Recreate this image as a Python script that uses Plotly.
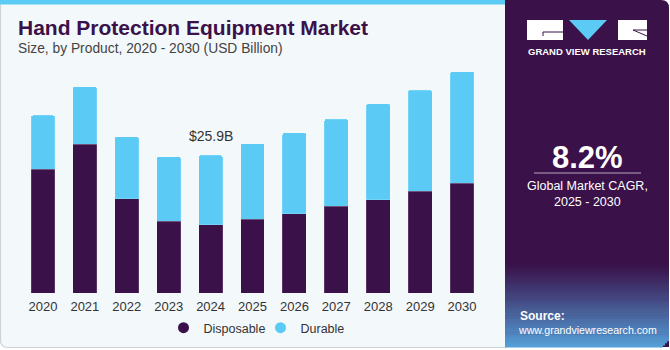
import plotly.graph_objects as go

years = ["2020", "2021", "2022", "2023", "2024", "2025", "2026", "2027", "2028", "2029", "2030"]
disposable = [23.3, 28.0, 17.7, 13.5, 12.85, 13.9, 14.9, 16.3, 17.5, 19.1, 20.6]
durable = [10.1, 10.8, 11.65, 12.15, 13.05, 14.2, 15.2, 16.4, 18.05, 19.05, 21.0]
label_year = "2024"
label_text = "$25.9B"

W, H = 670, 350
L, R, T, B = 22, 187, 60, 57
PW, PH = W - L - R, H - T - B
YMAX = PH / 5.317

def px(x):
    return (x - L) / PW

def py(y):
    return (H - B - y) / PH

DARK = "#3a1149"
BLUE = "#5bcbf6"

fig = go.Figure()
fig.add_bar(x=years, y=disposable, name="Disposable", marker_color=DARK,
            marker_line=dict(color="rgba(255,255,255,0.25)", width=0.6), showlegend=False)
fig.add_bar(x=years, y=durable, name="Durable", marker_color=BLUE,
            marker_line=dict(color="rgba(255,255,255,0.25)", width=0.6), showlegend=False)
# legend entries as circles (points kept outside the visible range)
fig.add_scatter(x=[years[0]], y=[-100], mode="markers", name="Disposable",
                marker=dict(color=DARK, size=11, symbol="circle"), hoverinfo="skip")
fig.add_scatter(x=[years[0]], y=[-100], mode="markers", name="Durable",
                marker=dict(color=BLUE, size=11, symbol="circle"), hoverinfo="skip")

shapes = []
# left card background
shapes.append(dict(type="path", xref="paper", yref="paper", layer="below",
                   path=f"M {px(0.5)},{py(2)} L {px(506)},{py(2)} L {px(506)},{py(347.5)} L {px(8)},{py(347.5)} Q {px(0.5)},{py(347.5)} {px(0.5)},{py(340)} Z",
                   fillcolor="#f3f8fb", line=dict(color="#cfd3d6", width=1.2)))
# top blue strip
shapes.append(dict(type="rect", xref="paper", yref="paper", layer="below",
                   x0=px(0), x1=px(506), y0=py(0), y1=py(4.5), fillcolor="#5bcbf6", line_width=0))
# right dark panel
shapes.append(dict(type="path", xref="paper", yref="paper", layer="below",
                   path=f"M {px(505)},{py(0)} L {px(661)},{py(0)} Q {px(669)},{py(0)} {px(669)},{py(8)} L {px(669)},{py(347)} L {px(505)},{py(347)} Z",
                   fillcolor=DARK, line_width=0))
# gradient at bottom of right panel (source area)
c0 = (0x3a, 0x11, 0x49)
c1 = (0x55, 0x9e, 0xd8)
n = 40
y_start, y_end = 262, 347
for i in range(n):
    t = i / (n - 1)
    t2 = t ** 1.1
    col = tuple(int(c0[k] + (c1[k] - c0[k]) * t2) for k in range(3))
    ya = y_start + (y_end - y_start) * i / n
    yb = y_start + (y_end - y_start) * (i + 1) / n + 0.5
    x1 = 669 if i < n - 3 else 669 - (i - (n - 4)) * 2
    shapes.append(dict(type="rect", xref="paper", yref="paper", layer="below",
                       x0=px(505), x1=px(x1), y0=py(ya), y1=py(yb),
                       fillcolor=f"rgb{col}", line_width=0))
# logo
shapes.append(dict(type="rect", xref="paper", yref="paper", x0=px(527), x1=px(563), y0=py(20), y1=py(40),
                   fillcolor="white", line_width=0))
shapes.append(dict(type="path", xref="paper", yref="paper",
                   path=f"M {px(569)},{py(20)} L {px(607)},{py(20)} L {px(588)},{py(40)} Z",
                   fillcolor=BLUE, line_width=0))
shapes.append(dict(type="rect", xref="paper", yref="paper", x0=px(618), x1=px(647), y0=py(20), y1=py(40),
                   fillcolor="white", line_width=0))
shapes.append(dict(type="line", xref="paper", yref="paper", x0=px(543), x1=px(563), y0=py(32), y1=py(32),
                   line=dict(color=DARK, width=1)))
shapes.append(dict(type="line", xref="paper", yref="paper", x0=px(543), x1=px(543), y0=py(32), y1=py(36),
                   line=dict(color=DARK, width=1)))
shapes.append(dict(type="line", xref="paper", yref="paper", x0=px(633), x1=px(647), y0=py(30), y1=py(36),
                   line=dict(color=DARK, width=1)))
shapes.append(dict(type="line", xref="paper", yref="paper", x0=px(633), x1=px(647), y0=py(30), y1=py(30),
                   line=dict(color=DARK, width=1)))
# CAGR divider
shapes.append(dict(type="line", xref="paper", yref="paper", x0=px(534), x1=px(641), y0=py(173), y1=py(173),
                   line=dict(color="#b8aac0", width=1.2)))

li = years.index(label_year)
ann = []
ann.append(dict(x=li, y=disposable[li] + durable[li],
                xref="x", yref="y", text=label_text, showarrow=False, yanchor="bottom", yshift=9,
                font=dict(size=14, color="#333333", family="Liberation Sans")))
ann.append(dict(x=px(16), y=py(28), xref="paper", yref="paper", text="<b>Hand Protection Equipment Market</b>",
                showarrow=False, xanchor="left", yanchor="middle",
                font=dict(size=21, color="#3a1149", family="Liberation Sans")))
ann.append(dict(x=px(16), y=py(48), xref="paper", yref="paper", text="Size, by Product, 2020 - 2030 (USD Billion)",
                showarrow=False, xanchor="left", yanchor="middle",
                font=dict(size=13.8, color="#444444", family="Liberation Sans")))
ann.append(dict(x=px(587), y=py(51), xref="paper", yref="paper", text="<b>GRAND VIEW RESEARCH</b>",
                showarrow=False, xanchor="center", yanchor="middle",
                font=dict(size=9.5, color="white", family="Liberation Sans")))
ann.append(dict(x=px(587), y=py(157), xref="paper", yref="paper", text="<b>8.2%</b>",
                showarrow=False, xanchor="center", yanchor="middle",
                font=dict(size=31, color="white", family="Liberation Sans")))
ann.append(dict(x=px(587), y=py(186), xref="paper", yref="paper", text="Global Market CAGR,",
                showarrow=False, xanchor="center", yanchor="middle",
                font=dict(size=12.5, color="white", family="Liberation Sans")))
ann.append(dict(x=px(587), y=py(202), xref="paper", yref="paper", text="2025 - 2030",
                showarrow=False, xanchor="center", yanchor="middle",
                font=dict(size=12.5, color="white", family="Liberation Sans")))
ann.append(dict(x=px(518), y=py(316), xref="paper", yref="paper", text="<b>Source:</b>",
                showarrow=False, xanchor="left", yanchor="middle",
                font=dict(size=12, color="white", family="Liberation Sans")))
ann.append(dict(x=px(516), y=py(330), xref="paper", yref="paper", text="www.grandviewresearch.com",
                showarrow=False, xanchor="left", yanchor="middle",
                font=dict(size=10.6, color="white", family="Liberation Sans")))

fig.update_layout(
    width=W, height=H, margin=dict(l=L, r=R, t=T, b=B, autoexpand=False),
    barmode="stack", bargap=0.43, barcornerradius=2,
    paper_bgcolor="white", plot_bgcolor="rgba(0,0,0,0)",
    shapes=shapes, annotations=ann,
    showlegend=True,
    legend=dict(orientation="h", x=0.5 + 8 / PW, xanchor="center", y=py(328), yanchor="middle",
                traceorder="normal", entrywidth=52, entrywidthmode="pixels",
                font=dict(size=12.5, color="#333333", family="Liberation Sans"),
                bgcolor="rgba(0,0,0,0)"),
    xaxis=dict(type="category", range=[-0.5, len(years) - 0.5], showgrid=False, showline=False,
               zeroline=False, ticks="", ticklabelstandoff=4, automargin=False,
               tickfont=dict(size=13, color="#333333", family="Liberation Sans")),
    yaxis=dict(visible=False, range=[0, YMAX], showgrid=False, zeroline=False, automargin=False),
)

fig.write_html("out.html")
